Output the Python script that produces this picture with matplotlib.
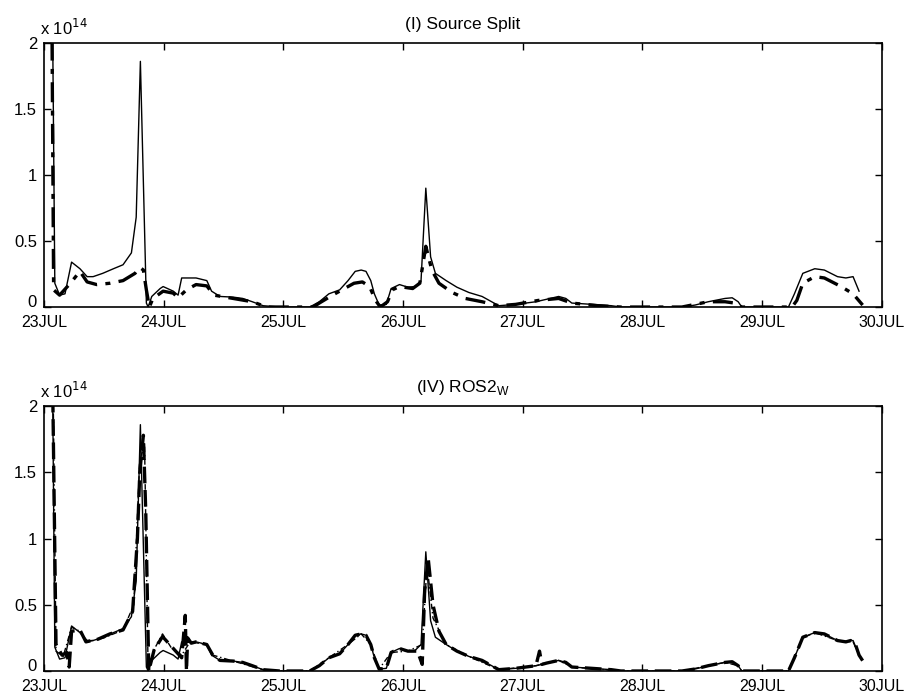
import numpy as np
import matplotlib
matplotlib.use("Agg")
from matplotlib import pyplot as plt
from matplotlib.transforms import ScaledTranslation

plt.rcParams['font.family'] = ['Liberation Sans', 'DejaVu Sans']

# days since 23 JUL, values in units of 1e14
day_labels = ["23JUL", "24JUL", "25JUL", "26JUL", "27JUL", "28JUL", "29JUL", "30JUL"]
y_ticks = [0, 0.5, 1, 1.5, 2]
y_tick_labels = ["0", "0.5", "1", "1.5", "2"]

observed = [
    (0, 2.6), (0.07, 2.3), (0.09, 0.18), (0.13, 0.09), (0.175, 0.10), (0.23, 0.34),
    (0.30, 0.29), (0.36, 0.23), (0.41, 0.23), (0.49, 0.255), (0.58, 0.29), (0.66, 0.32),
    (0.73, 0.41), (0.77, 0.68), (0.805, 1.86), (0.855, 0.03), (0.87, 0.0), (0.90, 0.08),
    (0.97, 0.14), (0.995, 0.155), (1.08, 0.12), (1.12, 0.09), (1.15, 0.22), (1.27, 0.22),
    (1.36, 0.20), (1.40, 0.12), (1.47, 0.08), (1.58, 0.075), (1.66, 0.065), (1.74, 0.04),
    (1.83, 0.01), (1.97, 0.0), (2.22, 0.0), (2.30, 0.04), (2.38, 0.10), (2.47, 0.13),
    (2.54, 0.20), (2.60, 0.27), (2.65, 0.28), (2.69, 0.27), (2.73, 0.20), (2.76, 0.10),
    (2.80, 0.015), (2.86, 0.02), (2.90, 0.14), (2.97, 0.17), (3.04, 0.15), (3.10, 0.155),
    (3.15, 0.20), (3.19, 0.90), (3.23, 0.38), (3.27, 0.255), (3.36, 0.20), (3.45, 0.15),
    (3.55, 0.11), (3.66, 0.08), (3.73, 0.045), (3.80, 0.01), (3.94, 0.02), (4.11, 0.04),
    (4.30, 0.08), (4.36, 0.065), (4.41, 0.03), (4.58, 0.02), (4.74, 0.01), (4.82, 0.0),
    (5.33, 0.0), (5.44, 0.015), (5.55, 0.04), (5.69, 0.065), (5.75, 0.07), (5.80, 0.04),
    (5.83, 0.0), (6.22, 0.0), (6.27, 0.10), (6.34, 0.255), (6.44, 0.29), (6.52, 0.28),
    (6.63, 0.23), (6.70, 0.22), (6.76, 0.23), (6.81, 0.12),
]

source_split = [
    (0, 2.6), (0.065, 2.3), (0.08, 0.13), (0.13, 0.09), (0.22, 0.18), (0.30, 0.27),
    (0.36, 0.19), (0.44, 0.17), (0.55, 0.18), (0.66, 0.20), (0.76, 0.255), (0.80, 0.30),
    (0.83, 0.28), (0.855, 0.13), (0.88, 0.0), (0.91, 0.065), (0.995, 0.12), (1.08, 0.105),
    (1.12, 0.07), (1.19, 0.13), (1.27, 0.17), (1.36, 0.16), (1.42, 0.09), (1.58, 0.065),
    (1.74, 0.04), (1.86, 0.0), (2.25, 0.0), (2.30, 0.03), (2.41, 0.09), (2.49, 0.13),
    (2.59, 0.18), (2.66, 0.19), (2.72, 0.155), (2.77, 0.05), (2.81, 0.0), (2.87, 0.04),
    (2.91, 0.13), (2.97, 0.155), (3.08, 0.14), (3.14, 0.18), (3.19, 0.46), (3.24, 0.28),
    (3.30, 0.18), (3.41, 0.11), (3.52, 0.065), (3.66, 0.04), (3.80, 0.01), (3.94, 0.02),
    (4.13, 0.05), (4.30, 0.065), (4.41, 0.03), (4.63, 0.01), (4.82, 0.0), (5.33, 0.0),
    (5.55, 0.04), (5.69, 0.04), (5.77, 0.03), (5.83, 0.0), (6.25, 0.0), (6.29, 0.05),
    (6.34, 0.18), (6.44, 0.23), (6.52, 0.22), (6.66, 0.155), (6.76, 0.10), (6.84, 0.015),
]

ros2w = [
    (0, 2.6), (0.07, 2.3), (0.10, 0.2), (0.15, 0.12), (0.19, 0.14), (0.21, 0.03),
    (0.23, 0.30), (0.30, 0.31), (0.35, 0.22), (0.45, 0.24), (0.55, 0.28), (0.66, 0.31),
    (0.74, 0.45), (0.78, 1.0), (0.80, 1.5), (0.83, 1.78), (0.85, 1.2), (0.875, 0.0),
    (0.92, 0.16), (0.99, 0.26), (1.05, 0.20), (1.15, 0.10), (1.18, 0.42), (1.19, 0.0),
    (1.20, 0.25), (1.23, 0.21), (1.27, 0.22), (1.36, 0.20), (1.41, 0.12), (1.47, 0.08),
    (1.58, 0.075), (1.66, 0.065), (1.74, 0.04), (1.83, 0.01), (1.97, 0.0), (2.22, 0.0),
    (2.30, 0.04), (2.38, 0.10), (2.47, 0.13), (2.54, 0.20), (2.60, 0.27), (2.65, 0.28),
    (2.69, 0.27), (2.73, 0.20), (2.76, 0.10), (2.80, 0.015), (2.86, 0.02), (2.90, 0.14),
    (2.97, 0.17), (3.04, 0.15), (3.12, 0.15), (3.16, 0.05), (3.18, 0.60), (3.21, 0.85),
    (3.25, 0.50), (3.30, 0.30), (3.36, 0.20), (3.45, 0.15), (3.55, 0.11), (3.66, 0.08),
    (3.73, 0.045), (3.80, 0.01), (3.94, 0.02), (4.11, 0.04), (4.14, 0.15), (4.16, 0.05),
    (4.20, 0.06), (4.30, 0.08), (4.36, 0.065), (4.41, 0.03), (4.58, 0.02), (4.74, 0.01),
    (4.82, 0.0), (5.33, 0.0), (5.44, 0.015), (5.55, 0.04), (5.69, 0.065), (5.75, 0.07),
    (5.80, 0.04), (5.83, 0.0), (6.22, 0.0), (6.27, 0.10), (6.34, 0.255), (6.44, 0.29),
    (6.52, 0.28), (6.63, 0.23), (6.70, 0.22), (6.74, 0.23), (6.78, 0.20), (6.81, 0.12),
    (6.86, 0.05),
]

ros2w_alt = [
    (0, 2.6), (0.075, 2.2), (0.10, 0.15), (0.16, 0.11), (0.23, 0.33), (0.30, 0.30),
    (0.36, 0.22), (0.50, 0.25), (0.66, 0.31), (0.75, 0.50), (0.80, 1.6), (0.84, 1.7),
    (0.87, 0.0), (0.93, 0.18), (0.99, 0.28), (1.06, 0.18), (1.15, 0.12), (1.22, 0.22),
    (1.36, 0.20), (1.41, 0.12), (1.58, 0.075), (1.83, 0.01), (1.97, 0.0), (2.22, 0.0),
    (2.38, 0.10), (2.54, 0.20), (2.65, 0.28), (2.73, 0.20), (2.80, 0.015), (2.90, 0.14),
    (3.04, 0.15), (3.16, 0.20), (3.20, 0.80), (3.25, 0.40), (3.36, 0.20), (3.55, 0.11),
    (3.80, 0.01), (4.11, 0.04), (4.30, 0.08), (4.41, 0.03), (4.82, 0.0), (5.33, 0.0),
    (5.69, 0.065), (5.80, 0.04), (5.83, 0.0), (6.22, 0.0), (6.34, 0.25), (6.44, 0.29),
    (6.63, 0.23), (6.76, 0.22), (6.82, 0.10),
]


def style_axes(ax):
    ax.set_xlim(0, 7)
    ax.set_ylim(0, 2)
    ax.set_xticks(range(len(day_labels)))
    ax.set_xticklabels(day_labels, fontsize=11.5)
    ax.set_yticks(y_ticks)
    ax.set_yticklabels(y_tick_labels, fontsize=12)
    ax.tick_params(direction="in", top=True, right=True, length=5, width=1)
    ax.tick_params(axis="x", pad=6)
    ax.tick_params(axis="y", pad=5)
    for s in ax.spines.values():
        s.set_linewidth(1.2)
    # lift the "0" label a little so it clears the date below it
    zero = ax.get_yticklabels()[0]
    zero.set_transform(zero.get_transform() + ScaledTranslation(0, 4 / 72, fig.dpi_scale_trans))
    ax.text(-0.005, 1.02, r"x 10$^{14}$", transform=ax.transAxes, fontsize=12,
            ha="left", va="bottom")


fig = plt.figure(figsize=(9.1, 6.97), dpi=100)
ax1 = fig.add_axes([0.0484, 0.5595, 0.9206, 0.379])
ax2 = fig.add_axes([0.0484, 0.0373, 0.9206, 0.380])

t, v = np.array(observed).T
ax1.plot(t, v, color="black", lw=1.0)
t, v = np.array(source_split).T
ax1.plot(t, v, color="black", lw=2.4, linestyle=(0, (6, 2.5, 1.5, 2.5)))
style_axes(ax1)
ax1.set_title("(I) Source Split", fontsize=12.5, pad=10)

t, v = np.array(observed).T
ax2.plot(t, v, color="black", lw=1.0)
t, v = np.array(ros2w_alt).T
ax2.plot(t, v, color="black", lw=1.0, linestyle=(0, (4, 2, 1, 2)))
t, v = np.array(ros2w).T
ax2.plot(t, v, color="black", lw=2.4, linestyle=(0, (5, 2)))
style_axes(ax2)
ax2.set_title("(IV) ROS2$_\\mathregular{W}$", fontsize=12.5, pad=10)

fig.savefig("out.png", dpi=100)
